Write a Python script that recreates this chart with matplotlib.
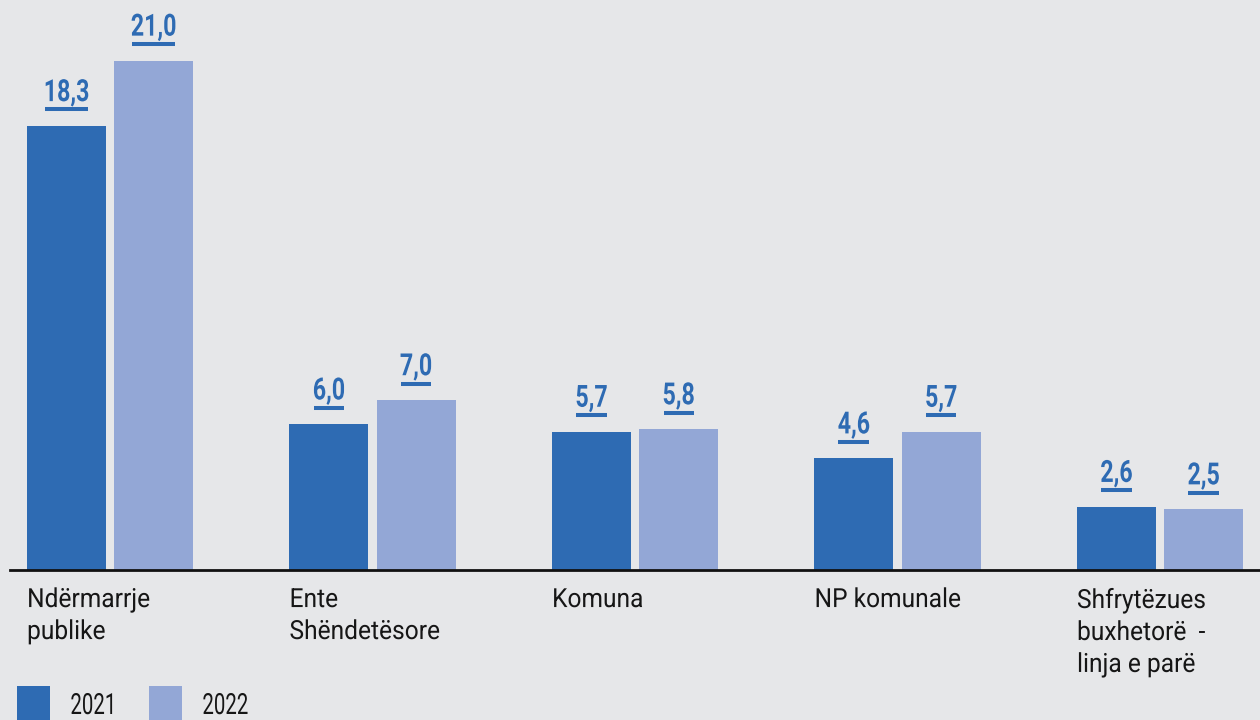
import matplotlib
matplotlib.use("Agg")
import matplotlib.pyplot as plt
import matplotlib.transforms as mtransforms
from matplotlib.patches import Rectangle
from matplotlib.patheffects import AbstractPathEffect
from matplotlib.textpath import TextPath
from matplotlib.font_manager import FontProperties
import numpy as np

categories = ["Ndërmarrje\npublike", "Ente\nShëndetësore", "Komuna", "NP komunale",
              "Shfrytëzues\nbuxhetorë  -\nlinja e parë"]
series_names = ["2021", "2022"]
values_2021 = [18.3, 6.0, 5.7, 4.6, 2.6]
values_2022 = [21.0, 7.0, 5.8, 5.7, 2.5]
value_labels_2021 = ["18,3", "6,0", "5,7", "4,6", "2,6"]
value_labels_2022 = ["21,0", "7,0", "5,8", "5,7", "2,5"]

BG = "#e6e7e9"
C1 = "#2e6bb3"
C2 = "#93a7d6"
LABEL_C = "#2e6bb3"
TEXT_C = "#161616"
FONTS = ["Roboto", "DejaVu Sans"]
plt.rcParams['font.family'] = FONTS


class Condense(AbstractPathEffect):
    """Horizontally squeeze text glyphs (condensed look)."""
    def __init__(self, sx=0.8, anchor="center"):
        super().__init__()
        self.sx = sx
        self.anchor = anchor

    def draw_path(self, renderer, gc, tpath, affine, rgbFace=None):
        bb = tpath.get_extents(affine)
        cx = (bb.x0 + bb.x1) / 2 if self.anchor == "center" else bb.x0
        aff = affine + mtransforms.Affine2D().translate(-cx, 0).scale(self.sx, 1).translate(cx, 0)
        renderer.draw_path(gc, tpath, aff, rgbFace)


DPI = 100
W, H = 1260, 720
fig = plt.figure(figsize=(W / DPI, H / DPI), dpi=DPI, facecolor=BG)
ax = fig.add_axes([10 / W, 150 / H, 1250 / W, 570 / H])
ax.set_facecolor(BG)

x = np.arange(len(categories))
bw = 0.301
off = 0.166
ax.bar(x - off, values_2021, bw, color=C1, zorder=2)
ax.bar(x + off, values_2022, bw, color=C2, zorder=2)

ax.set_xlim(-0.381, 4.381)
ax.set_ylim(0, 23.5)
for s in ["top", "right", "left"]:
    ax.spines[s].set_visible(False)
ax.spines["bottom"].set_linewidth(2)
ax.spines["bottom"].set_color("#111111")
ax.set_xticks([])
ax.set_yticks([])

# value labels with underline
VSX = 0.76
VSIZE = 22
UL_Y = 12.0   # underline offset above bar (points)
TXT_Y = 18.0  # baseline offset above bar (points)
vprop = FontProperties(family="Roboto", weight="bold", size=VSIZE)
for xs, vals, labs in [(x - off, values_2021, value_labels_2021),
                       (x + off, values_2022, value_labels_2022)]:
    for xi, v, lab in zip(xs, vals, labs):
        ax.annotate(lab, (xi, v), xytext=(0, TXT_Y), textcoords="offset points",
                    ha="center", va="baseline", fontsize=VSIZE, fontweight="bold",
                    color=LABEL_C, family=FONTS, path_effects=[Condense(VSX, "center")])
        ink_w_pt = TextPath((0, 0), lab, prop=vprop).get_extents().width * VSX
        half = ink_w_pt / 2
        tr_l = mtransforms.offset_copy(ax.transData, fig=fig, x=-half, y=UL_Y, units="points")
        tr_r = mtransforms.offset_copy(ax.transData, fig=fig, x=half, y=UL_Y, units="points")
        p0 = tr_l.transform((xi, v))
        p1 = tr_r.transform((xi, v))
        d0, d1 = ax.transData.inverted().transform([p0, p1])
        ax.plot([d0[0], d1[0]], [d0[1], d1[1]], color=LABEL_C, lw=2.9,
                solid_capstyle="butt", clip_on=False)

# category labels
trans = mtransforms.blended_transform_factory(ax.transData, ax.transAxes)
for xi, cat in zip(x, categories):
    ax.annotate(cat, (xi - off - bw / 2, 0), xycoords=trans, xytext=(0, -13),
                textcoords="offset points", ha="left", va="top", fontsize=19,
                color=TEXT_C, linespacing=1.42, family=FONTS,
                path_effects=[Condense(0.93, "left")])

# legend (manual: square swatch + label)
swatch_left_px = [17, 149]
text_left_px = [70, 202]
for name, col, sx0, tx0 in zip(series_names, [C1, C2], swatch_left_px, text_left_px):
    fig.patches.append(Rectangle((sx0 / W, -4 / H), 33 / W, (34 + 4) / H,
                                 transform=fig.transFigure, facecolor=col,
                                 edgecolor="none"))
    fig.text(tx0 / W, 6 / H, name, ha="left", va="baseline", fontsize=21,
             color=TEXT_C, family=FONTS, path_effects=[Condense(0.7, "left")])

fig.savefig("out.png", dpi=DPI, facecolor=BG)
